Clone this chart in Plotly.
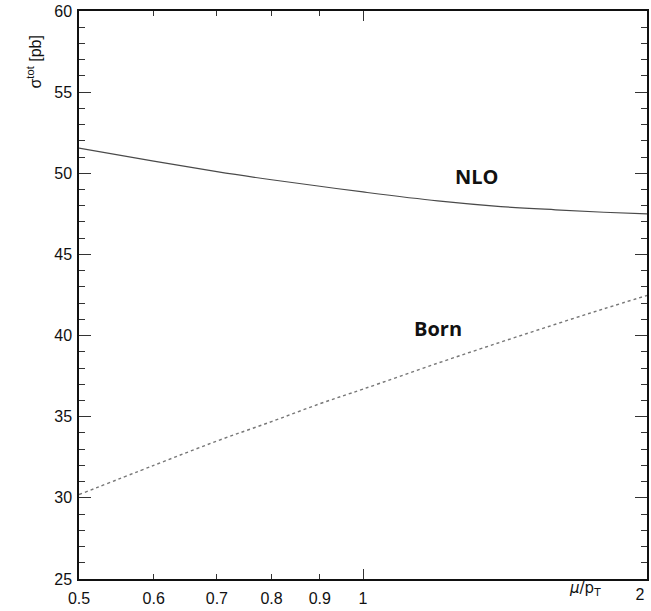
import math
import plotly.graph_objects as go

# Data
mu_over_pt = [0.5, 0.6, 0.7, 0.8, 0.9, 1.0, 1.2, 1.4, 1.6, 1.8, 2.0]
sigma_nlo = [51.55, 50.75, 50.1, 49.6, 49.2, 48.85, 48.3, 47.95, 47.75, 47.6, 47.5]
sigma_born = [30.2, 32.0, 33.5, 34.7, 35.8, 36.7, 38.3, 39.6, 40.7, 41.65, 42.47]

x_ticks = [0.5, 0.6, 0.7, 0.8, 0.9, 1]
x_tick_text = ["0.5", "0.6", "0.7", "0.8", "0.9", "1"]
x_major = [1]
x_end = [2]
x_end_text = ["2"]
y_range = [25, 60]

fig = go.Figure()
fig.add_trace(go.Scatter(x=mu_over_pt, y=sigma_nlo, mode="lines",
                         line=dict(color="#4a4a4a", width=1.2, shape="spline"),
                         showlegend=False))
fig.add_trace(go.Scatter(x=mu_over_pt, y=sigma_born, mode="lines",
                         line=dict(color="#777777", width=1.4, dash="dot", shape="spline"),
                         showlegend=False))
# invisible traces to activate the helper axes
fig.add_trace(go.Scatter(x=[0.5, 2], y=[25, 25], mode="lines", xaxis="x2", yaxis="y2",
                         line=dict(width=0), hoverinfo="skip", showlegend=False))
fig.add_trace(go.Scatter(x=[0.5, 2], y=[25, 25], mode="lines", xaxis="x3", yaxis="y",
                         line=dict(width=0), hoverinfo="skip", showlegend=False))

tick_font = dict(family="Liberation Sans, Arial, sans-serif", size=16, color="#111")
xr = [math.log10(0.5), math.log10(2)]

fig.update_layout(
    width=651, height=611,
    margin=dict(l=79, r=4, t=11, b=32),
    paper_bgcolor="white", plot_bgcolor="white",
    xaxis=dict(type="log", range=xr,
               tickvals=x_ticks, ticktext=x_tick_text,
               ticks="inside", ticklen=5, tickwidth=1, tickcolor="#333",
               showline=True, linecolor="#111", linewidth=1.5, mirror="ticks",
               showgrid=False, zeroline=False, tickfont=tick_font,
               ticklabelstandoff=4, automargin=False, ticklabeloverflow="allow"),
    xaxis2=dict(type="log", range=xr,
                overlaying="x", side="bottom", tickvals=x_major,
                showticklabels=False, ticks="inside", ticklen=10, tickwidth=1,
                tickcolor="#333", mirror="ticks", showline=False, showgrid=False,
                zeroline=False, automargin=False),
    xaxis3=dict(type="log", range=xr,
                overlaying="x", side="bottom", tickvals=x_end, ticktext=x_end_text,
                ticks="", showline=False, showgrid=False, zeroline=False,
                tickfont=tick_font, ticklabelstandoff=4, ticklabelshift=-7,
                automargin=False, ticklabeloverflow="allow"),
    yaxis=dict(range=y_range, dtick=5, ticks="inside", ticklen=12, tickwidth=1,
               tickcolor="#333", showline=True, linecolor="#111", linewidth=1.5,
               mirror="ticks", showgrid=False, zeroline=False, tickfont=tick_font,
               ticklabelstandoff=2, automargin=False, ticklabeloverflow="allow",
               minor=dict(dtick=1, ticks="inside", ticklen=6, tickcolor="#333",
                          showgrid=False)),
    yaxis2=dict(range=y_range, overlaying="y", side="right", dtick=1,
                showticklabels=False, ticks="inside", ticklen=6, tickwidth=1,
                tickcolor="#333", showline=False, showgrid=False, zeroline=False,
                automargin=False),
)

label_font = dict(family="Open Sans, sans-serif", size=20, color="#111")
fig.add_annotation(x=math.log10(1.32), y=49.8, text="<b>NLO</b>", showarrow=False,
                   font=label_font, xref="x", yref="y")
fig.add_annotation(x=math.log10(1.20), y=40.44, text="<b>Born</b>", showarrow=False,
                   font=label_font, xref="x", yref="y")

fig.add_annotation(x=(603 - 79) / 568, y=-(600 - 579) / 568, xref="paper", yref="paper",
                   text="<i>μ</i>/p<sub>T</sub>", showarrow=False,
                   font=dict(family="DejaVu Sans, sans-serif", size=15, color="#111"))
fig.add_annotation(x=-(79 - 22) / 568, y=(579 - 34) / 568, xref="paper", yref="paper",
                   text="σ<sup>tot</sup> [pb]", showarrow=False, textangle=-90,
                   font=dict(family="Liberation Sans, Arial, sans-serif", size=16, color="#111"))

fig.write_html("out.html", config={"displayModeBar": False},
               post_script="document.body.style.margin='0';document.body.style.overflow='hidden';")
